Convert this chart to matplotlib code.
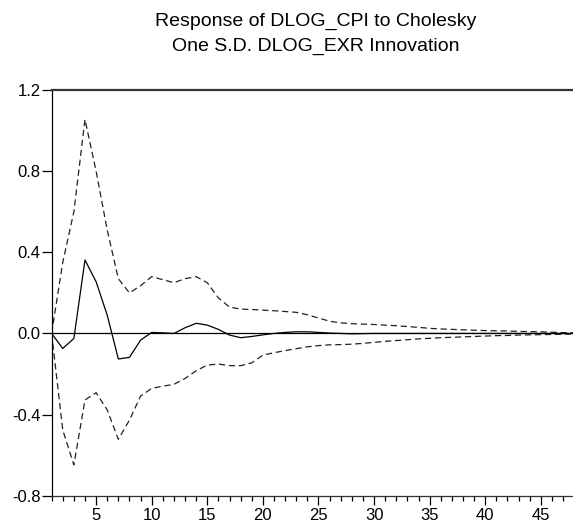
import matplotlib
matplotlib.use("Agg")
import matplotlib.pyplot as plt
from matplotlib.ticker import MultipleLocator

# ------------------------------------------------------------------
# Impulse response (periods 1..48)
# ------------------------------------------------------------------
periods = list(range(1, 49))

response = [0.0, -0.074, -0.025, 0.362, 0.255, 0.09, -0.126, -0.118, -0.033, 0.005,
            0.003, 0.0, 0.028, 0.05, 0.041, 0.02, -0.008, -0.021, -0.015, -0.007,
            0.0, 0.005, 0.008, 0.008, 0.005, 0.002, 0.0, -0.002, -0.001, 0.0,
            0.0, 0.0, 0.0, 0.0, 0.0, 0.0, 0.0, 0.0, 0.0, 0.0,
            0.0, 0.0, 0.0, 0.0, 0.0, 0.0, 0.0, 0.0]

upper = [0.0, 0.35, 0.6, 1.055, 0.8, 0.51, 0.27, 0.2, 0.235, 0.28,
         0.265, 0.25, 0.27, 0.28, 0.25, 0.175, 0.13, 0.12, 0.118, 0.115,
         0.112, 0.108, 0.104, 0.092, 0.076, 0.06, 0.052, 0.048, 0.046, 0.044,
         0.041, 0.038, 0.034, 0.03, 0.025, 0.022, 0.02, 0.018, 0.016, 0.014,
         0.013, 0.012, 0.01, 0.009, 0.008, 0.006, 0.004, 0.003]

lower = [0.0, -0.476, -0.648, -0.328, -0.292, -0.377, -0.522, -0.427, -0.309, -0.271,
         -0.26, -0.251, -0.222, -0.184, -0.156, -0.151, -0.159, -0.159, -0.145, -0.107,
         -0.095, -0.085, -0.075, -0.066, -0.06, -0.056, -0.055, -0.053, -0.049, -0.044,
         -0.039, -0.035, -0.031, -0.027, -0.024, -0.021, -0.019, -0.017, -0.015, -0.013,
         -0.011, -0.01, -0.008, -0.007, -0.006, -0.005, -0.004, -0.003]

yticks = [-0.8, -0.4, 0.0, 0.4, 0.8, 1.2]
ytick_labels = ["-0.8", "-0.4", "0.0", "0.4", "0.8", "1.2"]
title_lines = ["Response of DLOG_CPI to Cholesky", "One S.D. DLOG_EXR Innovation"]

plt.rcParams["font.family"] = ["Liberation Sans", "DejaVu Sans"]

fig = plt.figure(figsize=(5.73, 5.24), dpi=100)
ax = fig.add_axes([0.0901, 0.054, 0.912, 0.7742])

ax.axhline(0.0, color="black", lw=0.9, zorder=1)
ax.plot(periods, response, color="black", lw=0.9, zorder=3)
ax.plot(periods, upper, color="#222222", lw=0.9, dashes=(5, 3), zorder=2)
ax.plot(periods, lower, color="#222222", lw=0.9, dashes=(5, 3), zorder=2)

ax.set_xlim(1, 48)
ax.set_ylim(-0.8, 1.2)
ax.set_yticks(yticks)
ax.set_yticklabels(ytick_labels)
ax.set_xticks(list(range(5, 48, 5)))
ax.xaxis.set_minor_locator(MultipleLocator(1))

ax.tick_params(axis="both", direction="out", labelsize=12, color="black")
ax.tick_params(axis="y", length=7, width=0.9, pad=1)
ax.tick_params(axis="x", which="major", length=6.5, width=0.9, pad=2)
ax.tick_params(axis="x", which="minor", length=3.5, width=0.9)

for side in ["left", "bottom"]:
    ax.spines[side].set_linewidth(0.9)
ax.spines["top"].set_color("#333333")
ax.spines["top"].set_linewidth(1.6)
ax.spines["bottom"].set_color("#333333")
ax.spines["right"].set_visible(False)

fig.text(0.551, 0.960, title_lines[0], ha="center", va="center", fontsize=14)
fig.text(0.551, 0.911, title_lines[1], ha="center", va="center", fontsize=14)

fig.savefig("out.png", dpi=100)
